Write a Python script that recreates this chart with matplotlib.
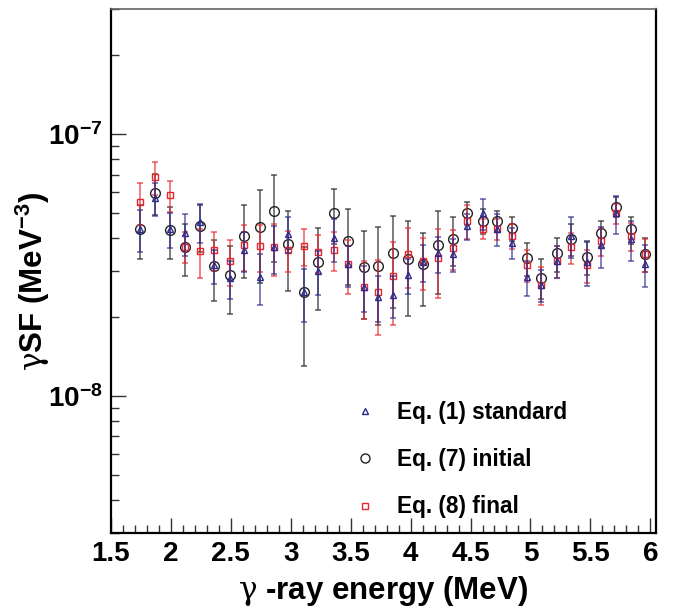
import numpy as np
import matplotlib
matplotlib.use('Agg')
import matplotlib.pyplot as plt
from matplotlib.lines import Line2D
from matplotlib.ticker import FixedLocator, NullFormatter, FuncFormatter, MultipleLocator

# gamma-ray energy (MeV)
energy = [1.74, 1.87, 1.99, 2.12, 2.24, 2.36, 2.49, 2.61, 2.74, 2.86, 2.98, 3.11,
          3.23, 3.36, 3.48, 3.61, 3.73, 3.85, 3.98, 4.10, 4.23, 4.35, 4.47, 4.60,
          4.72, 4.85, 4.97, 5.09, 5.22, 5.34, 5.47, 5.59, 5.71, 5.84, 5.96]

# values in units of 1e-8 MeV^-3
std_val = [4.34, 5.68, 4.34, 4.17, 4.62, 3.15, 2.81, 3.60, 2.85, 3.69, 4.15, 2.49,
           3.00, 4.00, 3.18, 2.61, 2.39, 2.43, 2.89, 3.25, 3.50, 3.48, 4.45, 4.97,
           4.34, 3.84, 2.84, 2.66, 3.27, 4.08, 3.25, 3.76, 4.97, 3.96, 3.19]
std_err = [0.80, 0.83, 0.67, 0.76, 0.77, 0.47, 0.47, 0.64, 0.62, 0.77, 0.65, 0.57,
           0.57, 0.75, 0.57, 0.52, 0.47, 0.44, 0.45, 0.53, 0.55, 0.50, 0.51, 0.66,
           0.60, 0.52, 0.44, 0.37, 0.45, 0.72, 0.63, 0.67, 0.83, 0.69, 0.58]

ini_val = [4.34, 5.97, 4.30, 3.71, 4.45, 3.13, 2.89, 4.08, 4.40, 5.09, 3.79, 2.50,
           3.24, 4.97, 3.90, 3.11, 3.13, 3.52, 3.34, 3.20, 3.76, 3.97, 5.00, 4.66,
           4.66, 4.37, 3.36, 2.83, 3.50, 3.98, 3.40, 4.17, 5.28, 4.32, 3.48]
ini_err = [1.00, 1.05, 0.97, 0.84, 0.90, 0.82, 0.83, 1.26, 1.70, 1.86, 1.28, 1.20,
           1.12, 1.18, 1.25, 1.15, 1.27, 1.35, 1.33, 1.00, 1.31, 0.85, 0.51, 0.50,
           0.42, 0.46, 0.48, 0.49, 0.52, 0.55, 0.50, 0.47, 0.48, 0.51, 0.52]

fin_val = [5.48, 6.83, 5.83, 3.71, 3.58, 3.60, 3.27, 3.76, 3.73, 3.69, 3.62, 3.72,
           3.53, 3.62, 3.18, 2.61, 2.50, 2.87, 3.47, 3.28, 3.35, 3.66, 4.66, 4.34,
           4.34, 4.09, 3.16, 2.66, 3.27, 3.69, 3.15, 3.91, 4.97, 4.08, 3.47]
fin_err = [1.00, 1.00, 0.80, 0.50, 0.75, 0.61, 0.65, 0.75, 0.75, 0.83, 0.64, 0.60,
           0.58, 0.61, 0.74, 0.65, 0.80, 1.00, 0.89, 0.74, 0.99, 0.64, 0.69, 0.38,
           0.40, 0.45, 0.45, 0.44, 0.45, 0.49, 0.45, 0.48, 0.45, 0.51, 0.51]

labels = ['Eq. (1) standard', 'Eq. (7) initial', 'Eq. (8) final']
scale = 1e-8

plt.rcParams['font.family'] = ['Liberation Sans', 'DejaVu Sans']
plt.rcParams['font.weight'] = 'bold'
plt.rcParams['mathtext.fontset'] = 'custom'
plt.rcParams['mathtext.rm'] = 'DejaVu Serif:weight=normal'
plt.rcParams['mathtext.bf'] = 'Liberation Sans:bold'
plt.rcParams['mathtext.it'] = 'Liberation Sans:italic'

c_std = '#2b2b8e'
c_ini = '#222222'
c_fin = '#e8262d'

fig = plt.figure(figsize=(6.84, 6.08), dpi=100)
ax = fig.add_axes([0.1623, 0.1238, 0.7963, 0.8613])
ax.set_yscale('log')

x = np.array(energy)

def draw(vals, errs, color, marker, ms, z):
    v = np.array(vals) * scale
    e = np.array(errs) * scale
    ax.errorbar(x, v, yerr=e, fmt='none', ecolor=color, elinewidth=1.1,
                capsize=2.2, capthick=1.1, alpha=0.75, zorder=z)
    ax.plot(x, v, linestyle='none', marker=marker, ms=ms, mfc='none', mec=color,
            mew=1.0, zorder=z + 0.5)

draw(ini_val, ini_err, c_ini, 'o', 7.0, 2)
draw(fin_val, fin_err, c_fin, 's', 4.6, 3)
draw(std_val, std_err, c_std, '^', 4.8, 4)

ax.set_xlim(1.5, 6.045)
ax.set_ylim(3e-9, 3e-7)

ax.xaxis.set_major_locator(MultipleLocator(0.5))
ax.xaxis.set_minor_locator(MultipleLocator(0.1))
ax.xaxis.set_major_formatter(FuncFormatter(lambda v, p: ('%g' % v)))

ax.yaxis.set_major_locator(FixedLocator([1e-8, 1e-7]))
ax.yaxis.set_major_formatter(FuncFormatter(
    lambda v, p: r'$\mathbf{10^{%d}}$' % int(round(np.log10(v)))))
ax.yaxis.set_minor_locator(FixedLocator(
    [k * 1e-9 for k in range(3, 10)] + [k * 1e-8 for k in range(2, 10)] +
    [k * 1e-7 for k in range(2, 4)]))
ax.yaxis.set_minor_formatter(NullFormatter())

ax.tick_params(axis='both', which='both', direction='in', top=False, right=False,
               color='#333333', width=1.0)
ax.tick_params(axis='both', which='major', length=11, labelsize=20, pad=6)
ax.tick_params(axis='both', which='minor', length=5.8)
for lab in ax.get_xticklabels() + ax.get_yticklabels():
    lab.set_fontweight('bold')

for side in ['left', 'bottom', 'right']:
    ax.spines[side].set_linewidth(1.6)
    ax.spines[side].set_color('black')
ax.spines['top'].set_linewidth(1.2)
ax.spines['top'].set_color('#666666')

ax.set_xlabel(r'$\mathrm{\gamma}$ -ray energy (MeV)', fontsize=22.5, fontweight='bold')
ax.xaxis.set_label_coords(0.5, -0.078)
ax.set_ylabel(r'$\mathrm{\gamma}$SF (MeV$^{\mathbf{-3}}$)', fontsize=22.5, fontweight='bold')
ax.yaxis.set_label_coords(-0.108, 0.48)

handles = [
    Line2D([], [], linestyle='none', marker='^', ms=4.0, mfc='none', mec=c_std, mew=1.0),
    Line2D([], [], linestyle='none', marker='o', ms=6.5, mfc='none', mec=c_ini, mew=1.0),
    Line2D([], [], linestyle='none', marker='s', ms=4.0, mfc='none', mec=c_fin, mew=1.0),
]
leg = ax.legend(handles, labels, loc='upper left', frameon=False,
                bbox_to_anchor=(354 / 684, 1 - 401 / 608), bbox_transform=fig.transFigure,
                borderaxespad=0, borderpad=0, handlelength=1.0, handletextpad=0.9,
                labelspacing=1.07, prop={'weight': 'bold', 'size': 16.3})

fig.savefig('out.png', dpi=100)
